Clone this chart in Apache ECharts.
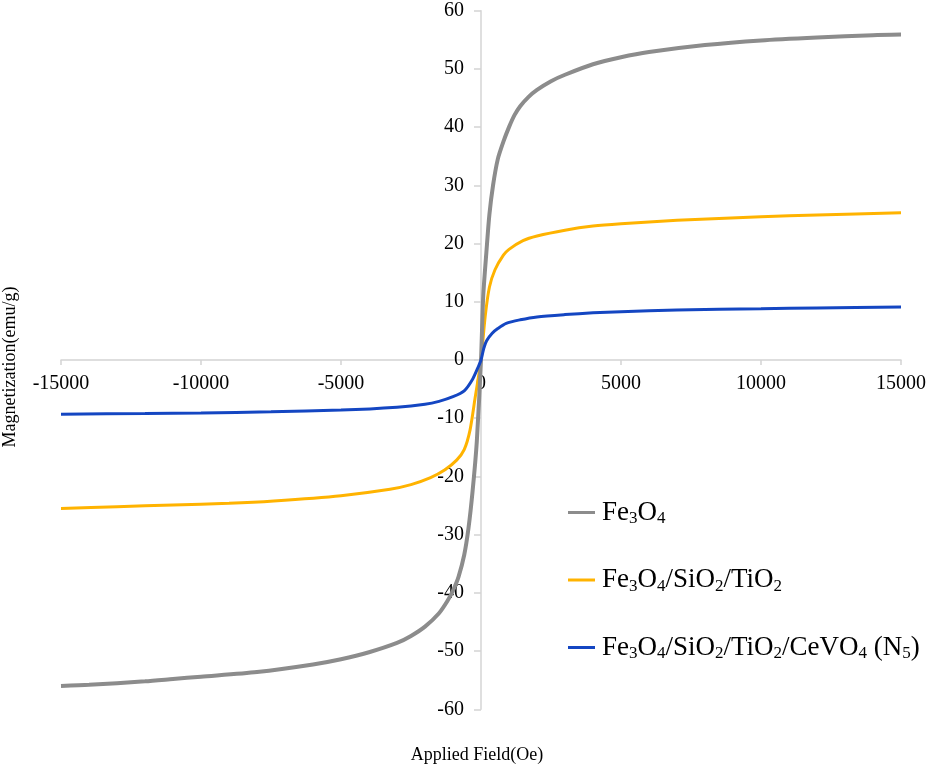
<!DOCTYPE html>
<html>
<head>
<meta charset="utf-8">
<script src="https://cdn.jsdelivr.net/npm/echarts@6/dist/echarts.min.js"></script>
<style>html,body{margin:0;padding:0;background:#fff;}#c{width:929px;height:767px;}</style>
</head>
<body>
<div id="c"></div>
<script>
// Data (Applied Field Oe, Magnetization emu/g)
var seriesNames = ['Fe3O4', 'Fe3O4/SiO2/TiO2', 'Fe3O4/SiO2/TiO2/CeVO4(N5)'];
var fe3o4 = [
  [-15000,-56.0],[-14000,-55.8],[-12000,-55.2],[-11000,-54.8],[-10000,-54.4],[-8000,-53.6],
  [-6000,-52.3],[-5000,-51.4],[-4000,-50.2],[-3000,-48.6],[-2500,-47.4],[-2000,-45.8],
  [-1500,-43.5],[-1200,-41.4],[-1000,-39.6],[-800,-37.2],[-600,-33.5],[-450,-29],
  [-300,-22.5],[-150,-14],[0,0],
  [80,11],[200,19],[300,25],[430,30],[600,34.5],[800,37.5],[1000,40],[1200,42.1],
  [1400,43.6],[1700,45.2],[2000,46.4],[2500,47.9],[3000,49.0],[4000,50.8],[5000,52.0],
  [6000,52.9],[8000,54.1],[10000,54.9],[12000,55.4],[14000,55.8],[15000,55.9]
];
var fe3o4SiTi = [
  [-15000,-25.5],[-13000,-25.2],[-11000,-24.9],[-9000,-24.6],[-7400,-24.2],[-5000,-23.3],
  [-3250,-22.2],[-2500,-21.4],[-1800,-20.2],[-1300,-18.9],[-870,-17.2],[-600,-15.4],
  [-390,-12],[-210,-6.5],[0,0],[150,7.5],[300,12.5],[500,15.5],[800,18],[1000,19],
  [1500,20.5],[2000,21.3],[3000,22.3],[4000,23],[5000,23.4],[7000,24],[10000,24.6],
  [12000,24.9],[15000,25.3]
];
var fe3o4SiTiCe = [
  [-15000,-9.3],[-12000,-9.2],[-10000,-9.1],[-7500,-8.9],[-5000,-8.6],[-3000,-8.1],
  [-2000,-7.6],[-1500,-7.1],[-1000,-6.3],[-600,-5.3],[-300,-3.3],[-100,-1.2],[0,0],
  [100,2],[200,3.3],[400,4.6],[600,5.4],[900,6.3],[1400,6.9],[2000,7.4],[3000,7.8],
  [4000,8.1],[5000,8.3],[7000,8.6],[10000,8.8],[12000,8.95],[15000,9.1]
];
var legendRich = {
  Fe3O4: '{n|Fe}{s|3}{n|O}{s|4}',
  'Fe3O4/SiO2/TiO2': '{n|Fe}{s|3}{n|O}{s|4}{n|/SiO}{s|2}{n|/TiO}{s|2}',
  'Fe3O4/SiO2/TiO2/CeVO4(N5)': '{n|Fe}{s|3}{n|O}{s|4}{n|/SiO}{s|2}{n|/TiO}{s|2}{n|/CeVO}{s|4}{n| (N}{s|5}{n|)}'
};
var xTitle = 'Applied Field(Oe)';
var yTitle = 'Magnetization(emu/g)';
var colors = ['#8c8c8c', '#FFB300', '#1446C2'];

var W = 929, H = 767;
var gLeft = 61, gRight = 28, gTop = 10.7, gBottom = 57.7;
var chart = echarts.init(document.getElementById('c'));
var serif = '"Liberation Serif", "Times New Roman", serif';
var axisLineStyle = { color: '#d4d4d4', width: 1.5 };
function plain(v) { return String(v); }
chart.setOption({
  animation: false,
  backgroundColor: '#fff',
  grid: { left: gLeft, right: gRight, top: gTop, bottom: gBottom, containLabel: false, outerBoundsMode: 'none' },
  xAxis: {
    type: 'value', min: -15000, max: 15000, interval: 5000,
    position: 'bottom', offset: -(H - gTop - gBottom) / 2,
    axisLine: { show: true, onZero: false, lineStyle: axisLineStyle },
    axisTick: { show: true, length: 5, lineStyle: axisLineStyle },
    axisLabel: { margin: 14, fontSize: 20, fontFamily: serif, color: '#000', formatter: plain },
    splitLine: { show: false }
  },
  yAxis: {
    type: 'value', min: -60, max: 60, interval: 10,
    position: 'left', offset: -(W - gLeft - gRight) / 2,
    axisLine: { show: true, onZero: false, lineStyle: axisLineStyle },
    axisTick: { show: true, length: 7, lineStyle: axisLineStyle },
    axisLabel: { margin: 17, fontSize: 20, fontFamily: serif, color: '#000', formatter: plain },
    splitLine: { show: false }
  },
  legend: {
    orient: 'vertical', left: 563, top: 494,
    itemWidth: 27, itemHeight: 3, itemGap: 39, icon: 'rect',
    data: seriesNames,
    formatter: function (name) { return legendRich[name]; },
    textStyle: {
      padding: [0, 0, 0, 2],
      rich: {
        n: { fontSize: 27, fontFamily: serif, color: '#000', lineHeight: 30, verticalAlign: 'middle' },
        s: { fontSize: 17, fontFamily: serif, color: '#000', lineHeight: 17, verticalAlign: 'bottom' }
      }
    }
  },
  graphic: [
    { type: 'text', x: 10, y: 367, rotation: Math.PI / 2,
      style: { text: yTitle, textAlign: 'center', textVerticalAlign: 'middle', font: '18px ' + serif, fill: '#000' } },
    { type: 'text', x: 477, y: 755,
      style: { text: xTitle, textAlign: 'center', textVerticalAlign: 'middle', font: '18px ' + serif, fill: '#000' } }
  ],
  series: [
    { name: seriesNames[0], type: 'line', data: fe3o4, showSymbol: false, smooth: 0.25,
      color: colors[0], lineStyle: { width: 4, color: colors[0] }, z: 3 },
    { name: seriesNames[1], type: 'line', data: fe3o4SiTi, showSymbol: false, smooth: 0.25,
      color: colors[1], lineStyle: { width: 3, color: colors[1] }, z: 2 },
    { name: seriesNames[2], type: 'line', data: fe3o4SiTiCe, showSymbol: false, smooth: 0.25,
      color: colors[2], lineStyle: { width: 3, color: colors[2] }, z: 4 }
  ]
});
</script>
</body>
</html>
